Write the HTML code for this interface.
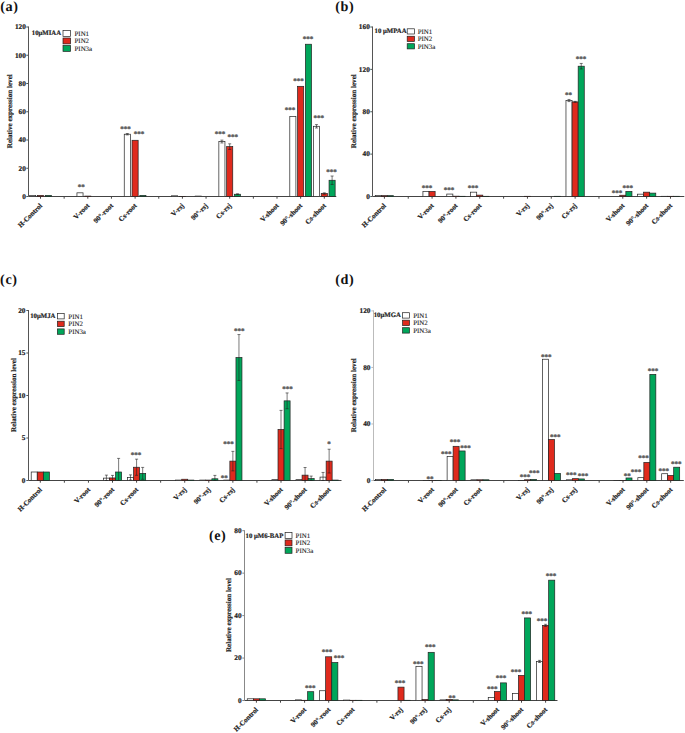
<!DOCTYPE html>
<html><head><meta charset="utf-8"><title>PIN expression</title>
<style>
html,body{margin:0;padding:0;background:#fff;}
body{width:685px;height:733px;overflow:hidden;}
svg{display:block;}
text{font-family:"Liberation Serif",serif;text-rendering:geometricPrecision;}
.yt,.ti,.xl,.tg{stroke:#222;stroke-width:0.2px;}
.lg{stroke:#222;stroke-width:0.1px;}
.pl{font-size:14.2px;font-weight:bold;fill:#111;letter-spacing:0.6px;}
.yt{font-size:7.3px;font-weight:bold;text-anchor:end;fill:#222;}
.ti{font-size:7.1px;font-weight:bold;text-anchor:middle;fill:#222;}
.xl{font-size:7.0px;font-weight:bold;text-anchor:end;fill:#222;}
.tg{font-size:6.75px;font-weight:bold;fill:#222;}
.lg{font-size:6.9px;fill:#222;}
.as{font-size:7.0px;font-weight:bold;text-anchor:middle;fill:#606060;stroke:#606060;stroke-width:0.35px;}
.ax{fill:none;stroke-width:1;}
.bar{stroke:#222;stroke-width:0.7;}
.eb{fill:none;stroke:#222;stroke-width:0.6;}
</style></head>
<body>
<svg width="685" height="733" viewBox="0 0 685 733">
<rect width="685" height="733" fill="#fff"/>
<text x="0.3" y="10.8" class="pl">(a)</text>
<path d="M28.5 26.5V196.5" stroke="#555" class="ax"/>
<path d="M28.5 196.5H336.3" stroke="#444" class="ax"/>
<path d="M26.3 196.5H28.5" stroke="#555" class="ax"/>
<text x="25.9" y="198.8" class="yt">0</text>
<path d="M26.3 168.25H28.5" stroke="#555" class="ax"/>
<text x="25.9" y="170.55" class="yt">20</text>
<path d="M26.3 140H28.5" stroke="#555" class="ax"/>
<text x="25.9" y="142.3" class="yt">40</text>
<path d="M26.3 111.75H28.5" stroke="#555" class="ax"/>
<text x="25.9" y="114.05" class="yt">60</text>
<path d="M26.3 83.5H28.5" stroke="#555" class="ax"/>
<text x="25.9" y="85.8" class="yt">80</text>
<path d="M26.3 55.25H28.5" stroke="#555" class="ax"/>
<text x="25.9" y="57.55" class="yt">100</text>
<path d="M26.3 27H28.5" stroke="#555" class="ax"/>
<text x="25.9" y="29.3" class="yt">120</text>
<text transform="translate(11.5 111.2) rotate(-90)" class="ti">Relative expression level</text>
<path d="M40.5 196.5v2.2" stroke="#444" class="ax"/>
<text transform="translate(42.6 206.2) rotate(-45)" class="xl">H-Control</text>
<path d="M64.15 196.5v2.2" stroke="#444" class="ax"/>
<path d="M87.8 196.5v2.2" stroke="#444" class="ax"/>
<text transform="translate(89.9 206.2) rotate(-45)" class="xl">V-root</text>
<path d="M111.45 196.5v2.2" stroke="#444" class="ax"/>
<text transform="translate(113.55 206.2) rotate(-45)" class="xl">90°-root</text>
<path d="M135.1 196.5v2.2" stroke="#444" class="ax"/>
<text transform="translate(137.2 206.2) rotate(-45)" class="xl">Cs-root</text>
<path d="M158.75 196.5v2.2" stroke="#444" class="ax"/>
<path d="M182.4 196.5v2.2" stroke="#444" class="ax"/>
<text transform="translate(184.5 206.2) rotate(-45)" class="xl">V-rsj</text>
<path d="M206.05 196.5v2.2" stroke="#444" class="ax"/>
<text transform="translate(208.15 206.2) rotate(-45)" class="xl">90°-rsj</text>
<path d="M229.7 196.5v2.2" stroke="#444" class="ax"/>
<text transform="translate(231.8 206.2) rotate(-45)" class="xl">Cs-rsj</text>
<path d="M253.35 196.5v2.2" stroke="#444" class="ax"/>
<path d="M277 196.5v2.2" stroke="#444" class="ax"/>
<text transform="translate(279.1 206.2) rotate(-45)" class="xl">V-shoot</text>
<path d="M300.65 196.5v2.2" stroke="#444" class="ax"/>
<text transform="translate(302.75 206.2) rotate(-45)" class="xl">90°-shoot</text>
<path d="M324.3 196.5v2.2" stroke="#444" class="ax"/>
<text transform="translate(326.4 206.2) rotate(-45)" class="xl">Cs-shoot</text>
<rect x="29.65" y="195.37" width="6.1" height="1.13" fill="#fff" class="bar"/>
<rect x="37.45" y="195.37" width="6.1" height="1.13" fill="#DF2A1D" class="bar"/>
<rect x="45.25" y="195.37" width="6.1" height="1.13" fill="#00A65A" class="bar"/>
<rect x="76.95" y="192.83" width="6.1" height="3.67" fill="#fff" class="bar"/>
<rect x="84.75" y="196.08" width="6.1" height="0.42" fill="#DF2A1D" class="bar"/>
<rect x="124.25" y="134.21" width="6.1" height="62.29" fill="#fff" class="bar"/>
<path d="M127.3 133.5V134.91M125.8 133.5h3M125.8 134.91h3" class="eb"/>
<rect x="132.05" y="140.28" width="6.1" height="56.22" fill="#DF2A1D" class="bar"/>
<rect x="139.85" y="195.37" width="6.1" height="1.13" fill="#00A65A" class="bar"/>
<rect x="171.55" y="195.79" width="6.1" height="0.71" fill="#fff" class="bar"/>
<rect x="179.35" y="196.36" width="6.1" height="0.14" fill="#DF2A1D" class="bar"/>
<rect x="195.2" y="196.08" width="6.1" height="0.42" fill="#fff" class="bar"/>
<rect x="218.85" y="141.55" width="6.1" height="54.95" fill="#fff" class="bar"/>
<path d="M221.9 140.14V142.97M220.4 140.14h3M220.4 142.97h3" class="eb"/>
<rect x="226.65" y="146.64" width="6.1" height="49.86" fill="#DF2A1D" class="bar"/>
<path d="M229.7 143.81V149.46M228.2 143.81h3M228.2 149.46h3" class="eb"/>
<rect x="234.45" y="194.24" width="6.1" height="2.26" fill="#00A65A" class="bar"/>
<path d="M237.5 193.82V194.66M236 193.82h3M236 194.66h3" class="eb"/>
<rect x="289.8" y="116.41" width="6.1" height="80.09" fill="#fff" class="bar"/>
<rect x="297.6" y="86.32" width="6.1" height="110.18" fill="#DF2A1D" class="bar"/>
<rect x="305.4" y="44.23" width="6.1" height="152.27" fill="#00A65A" class="bar"/>
<rect x="313.45" y="126.3" width="6.1" height="70.2" fill="#fff" class="bar"/>
<path d="M316.5 124.6V127.99M315 124.6h3M315 127.99h3" class="eb"/>
<rect x="321.25" y="193.53" width="6.1" height="2.97" fill="#DF2A1D" class="bar"/>
<path d="M324.3 192.83V194.24M322.8 192.83h3M322.8 194.24h3" class="eb"/>
<rect x="329.05" y="180.26" width="6.1" height="16.24" fill="#00A65A" class="bar"/>
<path d="M332.1 176.02V184.49M330.6 176.02h3M330.6 184.49h3" class="eb"/>
<text x="81.2" y="188.8" class="as">**</text>
<text x="125.4" y="130.9" class="as">***</text>
<text x="139" y="136" class="as">***</text>
<text x="220" y="135.9" class="as">***</text>
<text x="232.8" y="138.5" class="as">***</text>
<text x="290.1" y="112.2" class="as">***</text>
<text x="298.4" y="82.8" class="as">***</text>
<text x="308" y="41.1" class="as">***</text>
<text x="318.8" y="119.7" class="as">***</text>
<text x="331.6" y="173.6" class="as">***</text>
<text x="31.8" y="35.1" class="tg">10μMIAA</text>
<rect x="63" y="30.5" width="7.6" height="5.9" fill="#fff" class="bar"/>
<text x="74.5" y="35.85" class="lg">PIN1</text>
<rect x="63" y="38" width="7.6" height="5.9" fill="#DF2A1D" class="bar"/>
<text x="74.5" y="43.35" class="lg">PIN2</text>
<rect x="63" y="45.5" width="7.6" height="5.9" fill="#00A65A" class="bar"/>
<text x="74.5" y="50.85" class="lg">PIN3a</text>
<text x="335.3" y="11.4" class="pl">(b)</text>
<path d="M372.5 26.5V196.5" stroke="#555" class="ax"/>
<path d="M372.5 196.5H684.3" stroke="#444" class="ax"/>
<path d="M370.3 196.5H372.5" stroke="#555" class="ax"/>
<text x="369.8" y="198.8" class="yt">0</text>
<path d="M370.3 154.12H372.5" stroke="#555" class="ax"/>
<text x="369.8" y="156.43" class="yt">40</text>
<path d="M370.3 111.75H372.5" stroke="#555" class="ax"/>
<text x="369.8" y="114.05" class="yt">80</text>
<path d="M370.3 69.38H372.5" stroke="#555" class="ax"/>
<text x="369.8" y="71.67" class="yt">120</text>
<path d="M370.3 27H372.5" stroke="#555" class="ax"/>
<text x="369.8" y="29.3" class="yt">160</text>
<text transform="translate(355.6 111.2) rotate(-90)" class="ti">Relative expression level</text>
<path d="M384.4 196.5v2.2" stroke="#444" class="ax"/>
<text transform="translate(386.5 206.2) rotate(-45)" class="xl">H-Control</text>
<path d="M408.24 196.5v2.2" stroke="#444" class="ax"/>
<path d="M432.08 196.5v2.2" stroke="#444" class="ax"/>
<text transform="translate(434.18 206.2) rotate(-45)" class="xl">V-root</text>
<path d="M455.92 196.5v2.2" stroke="#444" class="ax"/>
<text transform="translate(458.02 206.2) rotate(-45)" class="xl">90°-root</text>
<path d="M479.76 196.5v2.2" stroke="#444" class="ax"/>
<text transform="translate(481.86 206.2) rotate(-45)" class="xl">Cs-root</text>
<path d="M503.6 196.5v2.2" stroke="#444" class="ax"/>
<path d="M527.44 196.5v2.2" stroke="#444" class="ax"/>
<text transform="translate(529.54 206.2) rotate(-45)" class="xl">V-rsj</text>
<path d="M551.28 196.5v2.2" stroke="#444" class="ax"/>
<text transform="translate(553.38 206.2) rotate(-45)" class="xl">90°-rsj</text>
<path d="M575.12 196.5v2.2" stroke="#444" class="ax"/>
<text transform="translate(577.22 206.2) rotate(-45)" class="xl">Cs-rsj</text>
<path d="M598.96 196.5v2.2" stroke="#444" class="ax"/>
<path d="M622.8 196.5v2.2" stroke="#444" class="ax"/>
<text transform="translate(624.9 206.2) rotate(-45)" class="xl">V-shoot</text>
<path d="M646.64 196.5v2.2" stroke="#444" class="ax"/>
<text transform="translate(648.74 206.2) rotate(-45)" class="xl">90°-shoot</text>
<path d="M670.48 196.5v2.2" stroke="#444" class="ax"/>
<text transform="translate(672.58 206.2) rotate(-45)" class="xl">Cs-shoot</text>
<rect x="375.25" y="195.44" width="6.1" height="1.06" fill="#fff" class="bar"/>
<rect x="381.35" y="195.65" width="6.1" height="0.85" fill="#DF2A1D" class="bar"/>
<rect x="387.45" y="195.65" width="6.1" height="0.85" fill="#00A65A" class="bar"/>
<rect x="422.93" y="191.41" width="6.1" height="5.08" fill="#fff" class="bar"/>
<rect x="429.03" y="191.41" width="6.1" height="5.08" fill="#DF2A1D" class="bar"/>
<rect x="446.77" y="194.06" width="6.1" height="2.44" fill="#fff" class="bar"/>
<rect x="452.87" y="196.18" width="6.1" height="0.32" fill="#DF2A1D" class="bar"/>
<rect x="458.97" y="196.29" width="6.1" height="0.21" fill="#00A65A" class="bar"/>
<rect x="470.61" y="192.16" width="6.1" height="4.34" fill="#fff" class="bar"/>
<rect x="476.71" y="195.12" width="6.1" height="1.38" fill="#DF2A1D" class="bar"/>
<rect x="482.81" y="196.29" width="6.1" height="0.21" fill="#00A65A" class="bar"/>
<rect x="524.39" y="196.29" width="6.1" height="0.21" fill="#DF2A1D" class="bar"/>
<rect x="554.33" y="196.29" width="6.1" height="0.21" fill="#00A65A" class="bar"/>
<rect x="565.97" y="100.52" width="6.1" height="95.98" fill="#fff" class="bar"/>
<path d="M569.02 99.46V101.58M567.52 99.46h3M567.52 101.58h3" class="eb"/>
<rect x="572.07" y="101.9" width="6.1" height="94.6" fill="#DF2A1D" class="bar"/>
<path d="M575.12 101.37V102.43M573.62 101.37h3M573.62 102.43h3" class="eb"/>
<rect x="578.17" y="66.2" width="6.1" height="130.3" fill="#00A65A" class="bar"/>
<path d="M581.22 63.44V68.95M579.72 63.44h3M579.72 68.95h3" class="eb"/>
<rect x="619.75" y="195.23" width="6.1" height="1.27" fill="#DF2A1D" class="bar"/>
<rect x="625.85" y="191.41" width="6.1" height="5.08" fill="#00A65A" class="bar"/>
<rect x="637.49" y="194.17" width="6.1" height="2.33" fill="#fff" class="bar"/>
<rect x="643.59" y="192.16" width="6.1" height="4.34" fill="#DF2A1D" class="bar"/>
<rect x="649.69" y="193.11" width="6.1" height="3.39" fill="#00A65A" class="bar"/>
<rect x="661.33" y="196.29" width="6.1" height="0.21" fill="#fff" class="bar"/>
<rect x="667.43" y="196.29" width="6.1" height="0.21" fill="#DF2A1D" class="bar"/>
<rect x="673.53" y="196.29" width="6.1" height="0.21" fill="#00A65A" class="bar"/>
<text x="427" y="190" class="as">***</text>
<text x="449.1" y="191.5" class="as">***</text>
<text x="473" y="190.3" class="as">***</text>
<text x="568.5" y="96.9" class="as">**</text>
<text x="581.1" y="61.1" class="as">***</text>
<text x="617" y="194.8" class="as">***</text>
<text x="627.8" y="189.5" class="as">***</text>
<text x="374.6" y="33.3" class="tg">10 μMPAA</text>
<rect x="407.2" y="28.8" width="7.3" height="5.2" fill="#fff" class="bar"/>
<text x="417.7" y="33.8" class="lg">PIN1</text>
<rect x="407.2" y="36.25" width="7.3" height="5.2" fill="#DF2A1D" class="bar"/>
<text x="417.7" y="41.25" class="lg">PIN2</text>
<rect x="407.2" y="43.7" width="7.3" height="5.2" fill="#00A65A" class="bar"/>
<text x="417.7" y="48.7" class="lg">PIN3a</text>
<text x="0.1" y="283.9" class="pl">(c)</text>
<path d="M28.5 310V480.5" stroke="#555" class="ax"/>
<path d="M28.5 480.5H341.5" stroke="#444" class="ax"/>
<path d="M26.3 480.5H28.5" stroke="#555" class="ax"/>
<text x="25.5" y="482.8" class="yt">0</text>
<path d="M26.3 438H28.5" stroke="#555" class="ax"/>
<text x="25.5" y="440.3" class="yt">5</text>
<path d="M26.3 395.5H28.5" stroke="#555" class="ax"/>
<text x="25.5" y="397.8" class="yt">10</text>
<path d="M26.3 353H28.5" stroke="#555" class="ax"/>
<text x="25.5" y="355.3" class="yt">15</text>
<path d="M26.3 310.5H28.5" stroke="#555" class="ax"/>
<text x="25.5" y="312.8" class="yt">20</text>
<text transform="translate(15.6 395) rotate(-90)" class="ti">Relative expression level</text>
<path d="M40.3 480.5v2.2" stroke="#444" class="ax"/>
<text transform="translate(42.4 490.2) rotate(-45)" class="xl">H-Control</text>
<path d="M64.37 480.5v2.2" stroke="#444" class="ax"/>
<path d="M88.44 480.5v2.2" stroke="#444" class="ax"/>
<text transform="translate(90.54 490.2) rotate(-45)" class="xl">V-root</text>
<path d="M112.51 480.5v2.2" stroke="#444" class="ax"/>
<text transform="translate(114.61 490.2) rotate(-45)" class="xl">90°-root</text>
<path d="M136.58 480.5v2.2" stroke="#444" class="ax"/>
<text transform="translate(138.68 490.2) rotate(-45)" class="xl">Cs-root</text>
<path d="M160.65 480.5v2.2" stroke="#444" class="ax"/>
<path d="M184.72 480.5v2.2" stroke="#444" class="ax"/>
<text transform="translate(186.82 490.2) rotate(-45)" class="xl">V-rsj</text>
<path d="M208.79 480.5v2.2" stroke="#444" class="ax"/>
<text transform="translate(210.89 490.2) rotate(-45)" class="xl">90°-rsj</text>
<path d="M232.86 480.5v2.2" stroke="#444" class="ax"/>
<text transform="translate(234.96 490.2) rotate(-45)" class="xl">Cs-rsj</text>
<path d="M256.93 480.5v2.2" stroke="#444" class="ax"/>
<path d="M281 480.5v2.2" stroke="#444" class="ax"/>
<text transform="translate(283.1 490.2) rotate(-45)" class="xl">V-shoot</text>
<path d="M305.07 480.5v2.2" stroke="#444" class="ax"/>
<text transform="translate(307.17 490.2) rotate(-45)" class="xl">90°-shoot</text>
<path d="M329.14 480.5v2.2" stroke="#444" class="ax"/>
<text transform="translate(331.24 490.2) rotate(-45)" class="xl">Cs-shoot</text>
<rect x="31.2" y="472" width="6" height="8.5" fill="#fff" class="bar"/>
<rect x="37.3" y="472" width="6" height="8.5" fill="#DF2A1D" class="bar"/>
<rect x="43.4" y="472" width="6" height="8.5" fill="#00A65A" class="bar"/>
<rect x="103.41" y="478.12" width="6" height="2.38" fill="#fff" class="bar"/>
<path d="M106.41 475.14V480.5M104.91 475.14h3M104.91 480.5h3" class="eb"/>
<rect x="109.51" y="477.95" width="6" height="2.55" fill="#DF2A1D" class="bar"/>
<path d="M112.51 475.4V480.5M111.01 475.4h3M111.01 480.5h3" class="eb"/>
<rect x="115.61" y="472" width="6" height="8.5" fill="#00A65A" class="bar"/>
<path d="M118.61 458.4V480.5M117.11 458.4h3M117.11 480.5h3" class="eb"/>
<rect x="127.48" y="477.44" width="6" height="3.06" fill="#fff" class="bar"/>
<path d="M130.48 474.89V479.99M128.98 474.89h3M128.98 479.99h3" class="eb"/>
<rect x="133.58" y="467.24" width="6" height="13.26" fill="#DF2A1D" class="bar"/>
<path d="M136.58 459.17V475.31M135.08 459.17h3M135.08 475.31h3" class="eb"/>
<rect x="139.68" y="473.36" width="6" height="7.14" fill="#00A65A" class="bar"/>
<path d="M142.68 467.41V479.31M141.18 467.41h3M141.18 479.31h3" class="eb"/>
<rect x="175.62" y="480.07" width="6" height="0.43" fill="#fff" class="bar"/>
<rect x="181.72" y="479.23" width="6" height="1.27" fill="#DF2A1D" class="bar"/>
<rect x="187.82" y="480.07" width="6" height="0.43" fill="#00A65A" class="bar"/>
<rect x="199.69" y="480.07" width="6" height="0.43" fill="#fff" class="bar"/>
<rect x="205.79" y="480.07" width="6" height="0.43" fill="#DF2A1D" class="bar"/>
<rect x="211.89" y="478.8" width="6" height="1.7" fill="#00A65A" class="bar"/>
<path d="M214.89 475.4V480.5M213.39 475.4h3M213.39 480.5h3" class="eb"/>
<rect x="223.76" y="480.07" width="6" height="0.43" fill="#fff" class="bar"/>
<rect x="229.86" y="461.12" width="6" height="19.38" fill="#DF2A1D" class="bar"/>
<path d="M232.86 451.35V470.89M231.36 451.35h3M231.36 470.89h3" class="eb"/>
<rect x="235.96" y="357.5" width="6" height="123" fill="#00A65A" class="bar"/>
<path d="M238.96 334.55V380.45M237.46 334.55h3M237.46 380.45h3" class="eb"/>
<rect x="271.9" y="479.65" width="6" height="0.85" fill="#fff" class="bar"/>
<rect x="278" y="429.5" width="6" height="51" fill="#DF2A1D" class="bar"/>
<path d="M281 410.38V448.62M279.5 410.38h3M279.5 448.62h3" class="eb"/>
<rect x="284.1" y="400.86" width="6" height="79.64" fill="#00A65A" class="bar"/>
<path d="M287.1 392.95V408.76M285.6 392.95h3M285.6 408.76h3" class="eb"/>
<rect x="295.97" y="479.65" width="6" height="0.85" fill="#fff" class="bar"/>
<rect x="302.07" y="475.14" width="6" height="5.36" fill="#DF2A1D" class="bar"/>
<path d="M305.07 467.5V480.5M303.57 467.5h3M303.57 480.5h3" class="eb"/>
<rect x="308.17" y="478.63" width="6" height="1.87" fill="#00A65A" class="bar"/>
<path d="M311.17 476.08V480.5M309.67 476.08h3M309.67 480.5h3" class="eb"/>
<rect x="320.04" y="477.1" width="6" height="3.4" fill="#fff" class="bar"/>
<path d="M323.04 472.43V480.5M321.54 472.43h3M321.54 480.5h3" class="eb"/>
<rect x="326.14" y="461.12" width="6" height="19.38" fill="#DF2A1D" class="bar"/>
<path d="M329.14 449.22V473.02M327.64 449.22h3M327.64 473.02h3" class="eb"/>
<rect x="332.24" y="480.07" width="6" height="0.43" fill="#00A65A" class="bar"/>
<text x="136" y="457.3" class="as">***</text>
<text x="224.2" y="479.6" class="as">**</text>
<text x="228.4" y="446" class="as">***</text>
<text x="239.2" y="332.6" class="as">***</text>
<text x="287.4" y="391.1" class="as">***</text>
<text x="329.1" y="445.6" class="as">*</text>
<text x="30.2" y="317.6" class="tg">10μMJA</text>
<rect x="57.4" y="313.5" width="6.8" height="5.4" fill="#fff" class="bar"/>
<text x="68.3" y="318.6" class="lg">PIN1</text>
<rect x="57.4" y="321.2" width="6.8" height="5.4" fill="#DF2A1D" class="bar"/>
<text x="68.3" y="326.3" class="lg">PIN2</text>
<rect x="57.4" y="328.9" width="6.8" height="5.4" fill="#00A65A" class="bar"/>
<text x="68.3" y="334" class="lg">PIN3a</text>
<text x="335.3" y="284.1" class="pl">(d)</text>
<path d="M373.5 310.4V480.5" stroke="#bbb" class="ax"/>
<path d="M373.5 480.5H683.8" stroke="#444" class="ax"/>
<path d="M371.3 480.5H373.5" stroke="#bbb" class="ax"/>
<text x="370.5" y="482.8" class="yt">0</text>
<path d="M371.3 423.97H373.5" stroke="#bbb" class="ax"/>
<text x="370.5" y="426.27" class="yt">40</text>
<path d="M371.3 367.43H373.5" stroke="#bbb" class="ax"/>
<text x="370.5" y="369.73" class="yt">80</text>
<path d="M371.3 310.9H373.5" stroke="#bbb" class="ax"/>
<text x="370.5" y="313.2" class="yt">120</text>
<text transform="translate(355.6 395.2) rotate(-90)" class="ti">Relative expression level</text>
<path d="M384.6 480.5v2.2" stroke="#444" class="ax"/>
<text transform="translate(386.7 490.2) rotate(-45)" class="xl">H-Control</text>
<path d="M408.44 480.5v2.2" stroke="#444" class="ax"/>
<path d="M432.28 480.5v2.2" stroke="#444" class="ax"/>
<text transform="translate(434.38 490.2) rotate(-45)" class="xl">V-root</text>
<path d="M456.12 480.5v2.2" stroke="#444" class="ax"/>
<text transform="translate(458.22 490.2) rotate(-45)" class="xl">90°-root</text>
<path d="M479.96 480.5v2.2" stroke="#444" class="ax"/>
<text transform="translate(482.06 490.2) rotate(-45)" class="xl">Cs-root</text>
<path d="M503.8 480.5v2.2" stroke="#444" class="ax"/>
<path d="M527.64 480.5v2.2" stroke="#444" class="ax"/>
<text transform="translate(529.74 490.2) rotate(-45)" class="xl">V-rsj</text>
<path d="M551.48 480.5v2.2" stroke="#444" class="ax"/>
<text transform="translate(553.58 490.2) rotate(-45)" class="xl">90°-rsj</text>
<path d="M575.32 480.5v2.2" stroke="#444" class="ax"/>
<text transform="translate(577.42 490.2) rotate(-45)" class="xl">Cs-rsj</text>
<path d="M599.16 480.5v2.2" stroke="#444" class="ax"/>
<path d="M623 480.5v2.2" stroke="#444" class="ax"/>
<text transform="translate(625.1 490.2) rotate(-45)" class="xl">V-shoot</text>
<path d="M646.84 480.5v2.2" stroke="#444" class="ax"/>
<text transform="translate(648.94 490.2) rotate(-45)" class="xl">90°-shoot</text>
<path d="M670.68 480.5v2.2" stroke="#444" class="ax"/>
<text transform="translate(672.78 490.2) rotate(-45)" class="xl">Cs-shoot</text>
<rect x="375.6" y="479.37" width="6" height="1.13" fill="#fff" class="bar"/>
<rect x="381.6" y="479.37" width="6" height="1.13" fill="#DF2A1D" class="bar"/>
<rect x="387.6" y="479.37" width="6" height="1.13" fill="#00A65A" class="bar"/>
<rect x="423.28" y="480.36" width="6" height="0.14" fill="#fff" class="bar"/>
<rect x="429.28" y="480.36" width="6" height="0.14" fill="#DF2A1D" class="bar"/>
<rect x="435.28" y="480.36" width="6" height="0.14" fill="#00A65A" class="bar"/>
<rect x="447.12" y="456.47" width="6" height="24.03" fill="#fff" class="bar"/>
<rect x="453.12" y="446.3" width="6" height="34.2" fill="#DF2A1D" class="bar"/>
<rect x="459.12" y="450.96" width="6" height="29.54" fill="#00A65A" class="bar"/>
<rect x="470.96" y="479.79" width="6" height="0.71" fill="#fff" class="bar"/>
<rect x="476.96" y="479.79" width="6" height="0.71" fill="#DF2A1D" class="bar"/>
<rect x="482.96" y="479.79" width="6" height="0.71" fill="#00A65A" class="bar"/>
<rect x="518.64" y="480.36" width="6" height="0.14" fill="#fff" class="bar"/>
<rect x="524.64" y="479.79" width="6" height="0.71" fill="#DF2A1D" class="bar"/>
<rect x="530.64" y="479.37" width="6" height="1.13" fill="#00A65A" class="bar"/>
<rect x="542.48" y="359.24" width="6" height="121.26" fill="#fff" class="bar"/>
<rect x="548.48" y="439.51" width="6" height="40.99" fill="#DF2A1D" class="bar"/>
<rect x="554.48" y="473.43" width="6" height="7.07" fill="#00A65A" class="bar"/>
<rect x="566.32" y="479.79" width="6" height="0.71" fill="#fff" class="bar"/>
<rect x="572.32" y="478.66" width="6" height="1.84" fill="#DF2A1D" class="bar"/>
<rect x="578.32" y="478.95" width="6" height="1.55" fill="#00A65A" class="bar"/>
<rect x="614" y="480.36" width="6" height="0.14" fill="#fff" class="bar"/>
<rect x="620" y="480.36" width="6" height="0.14" fill="#DF2A1D" class="bar"/>
<rect x="626" y="477.96" width="6" height="2.54" fill="#00A65A" class="bar"/>
<rect x="637.84" y="477.67" width="6" height="2.83" fill="#fff" class="bar"/>
<rect x="643.84" y="462.41" width="6" height="18.09" fill="#DF2A1D" class="bar"/>
<rect x="649.84" y="374.36" width="6" height="106.14" fill="#00A65A" class="bar"/>
<rect x="661.68" y="473.72" width="6" height="6.78" fill="#fff" class="bar"/>
<rect x="667.68" y="475.41" width="6" height="5.09" fill="#DF2A1D" class="bar"/>
<rect x="673.68" y="467.21" width="6" height="13.29" fill="#00A65A" class="bar"/>
<text x="429.9" y="480.7" class="as">**</text>
<text x="446.2" y="455.6" class="as">***</text>
<text x="455" y="443.7" class="as">***</text>
<text x="465.6" y="450" class="as">***</text>
<text x="525" y="478.7" class="as">***</text>
<text x="534.2" y="475" class="as">***</text>
<text x="546.2" y="359" class="as">***</text>
<text x="555.3" y="439.3" class="as">***</text>
<text x="571.2" y="476.8" class="as">***</text>
<text x="583" y="477.8" class="as">***</text>
<text x="627.2" y="477.8" class="as">**</text>
<text x="636.1" y="474.3" class="as">***</text>
<text x="643.4" y="459.7" class="as">***</text>
<text x="653" y="372.8" class="as">***</text>
<text x="663.7" y="472.7" class="as">***</text>
<text x="676.2" y="465.8" class="as">***</text>
<text x="373.7" y="317.4" class="tg">10μMGA</text>
<rect x="402.6" y="312.7" width="6.9" height="5.4" fill="#fff" class="bar"/>
<text x="413.2" y="317.8" class="lg">PIN1</text>
<rect x="402.6" y="320.2" width="6.9" height="5.4" fill="#DF2A1D" class="bar"/>
<text x="413.2" y="325.3" class="lg">PIN2</text>
<rect x="402.6" y="327.7" width="6.9" height="5.4" fill="#00A65A" class="bar"/>
<text x="413.2" y="332.8" class="lg">PIN3a</text>
<text x="208.9" y="539.9" class="pl">(e)</text>
<path d="M244.5 530.2V700.5" stroke="#888" class="ax"/>
<path d="M244.5 700.5H557.5" stroke="#444" class="ax"/>
<path d="M242.3 700.5H244.5" stroke="#888" class="ax"/>
<text x="241.6" y="702.8" class="yt">0</text>
<path d="M242.3 658.05H244.5" stroke="#888" class="ax"/>
<text x="241.6" y="660.35" class="yt">20</text>
<path d="M242.3 615.6H244.5" stroke="#888" class="ax"/>
<text x="241.6" y="617.9" class="yt">40</text>
<path d="M242.3 573.15H244.5" stroke="#888" class="ax"/>
<text x="241.6" y="575.45" class="yt">60</text>
<path d="M242.3 530.7H244.5" stroke="#888" class="ax"/>
<text x="241.6" y="533" class="yt">80</text>
<text transform="translate(231.1 615.1) rotate(-90)" class="ti">Relative expression level</text>
<path d="M256.4 700.5v2.2" stroke="#444" class="ax"/>
<text transform="translate(258.5 710.2) rotate(-45)" class="xl">H-Control</text>
<path d="M280.5 700.5v2.2" stroke="#444" class="ax"/>
<path d="M304.6 700.5v2.2" stroke="#444" class="ax"/>
<text transform="translate(306.7 710.2) rotate(-45)" class="xl">V-root</text>
<path d="M328.7 700.5v2.2" stroke="#444" class="ax"/>
<text transform="translate(330.8 710.2) rotate(-45)" class="xl">90°-root</text>
<path d="M352.8 700.5v2.2" stroke="#444" class="ax"/>
<text transform="translate(354.9 710.2) rotate(-45)" class="xl">Cs-root</text>
<path d="M376.9 700.5v2.2" stroke="#444" class="ax"/>
<path d="M401 700.5v2.2" stroke="#444" class="ax"/>
<text transform="translate(403.1 710.2) rotate(-45)" class="xl">V-rsj</text>
<path d="M425.1 700.5v2.2" stroke="#444" class="ax"/>
<text transform="translate(427.2 710.2) rotate(-45)" class="xl">90°-rsj</text>
<path d="M449.2 700.5v2.2" stroke="#444" class="ax"/>
<text transform="translate(451.3 710.2) rotate(-45)" class="xl">Cs-rsj</text>
<path d="M473.3 700.5v2.2" stroke="#444" class="ax"/>
<path d="M497.4 700.5v2.2" stroke="#444" class="ax"/>
<text transform="translate(499.5 710.2) rotate(-45)" class="xl">V-shoot</text>
<path d="M521.5 700.5v2.2" stroke="#444" class="ax"/>
<text transform="translate(523.6 710.2) rotate(-45)" class="xl">90°-shoot</text>
<path d="M545.6 700.5v2.2" stroke="#444" class="ax"/>
<text transform="translate(547.7 710.2) rotate(-45)" class="xl">Cs-shoot</text>
<rect x="247.25" y="698.8" width="6.1" height="1.7" fill="#fff" class="bar"/>
<rect x="253.35" y="698.8" width="6.1" height="1.7" fill="#DF2A1D" class="bar"/>
<rect x="259.45" y="698.8" width="6.1" height="1.7" fill="#00A65A" class="bar"/>
<rect x="295.45" y="699.86" width="6.1" height="0.64" fill="#fff" class="bar"/>
<rect x="301.55" y="700.29" width="6.1" height="0.21" fill="#DF2A1D" class="bar"/>
<rect x="307.65" y="691.69" width="6.1" height="8.81" fill="#00A65A" class="bar"/>
<rect x="319.55" y="690.74" width="6.1" height="9.76" fill="#fff" class="bar"/>
<rect x="325.65" y="656.78" width="6.1" height="43.72" fill="#DF2A1D" class="bar"/>
<rect x="331.75" y="662.51" width="6.1" height="37.99" fill="#00A65A" class="bar"/>
<rect x="343.65" y="700.08" width="6.1" height="0.42" fill="#fff" class="bar"/>
<rect x="349.75" y="700.29" width="6.1" height="0.21" fill="#DF2A1D" class="bar"/>
<rect x="355.85" y="700.29" width="6.1" height="0.21" fill="#00A65A" class="bar"/>
<rect x="397.95" y="687.13" width="6.1" height="13.37" fill="#DF2A1D" class="bar"/>
<rect x="404.05" y="700.29" width="6.1" height="0.21" fill="#00A65A" class="bar"/>
<rect x="415.95" y="666.33" width="6.1" height="34.17" fill="#fff" class="bar"/>
<rect x="422.05" y="699.44" width="6.1" height="1.06" fill="#DF2A1D" class="bar"/>
<rect x="428.15" y="652.32" width="6.1" height="48.18" fill="#00A65A" class="bar"/>
<rect x="440.05" y="699.86" width="6.1" height="0.64" fill="#fff" class="bar"/>
<rect x="446.15" y="699.44" width="6.1" height="1.06" fill="#DF2A1D" class="bar"/>
<rect x="452.25" y="699.86" width="6.1" height="0.64" fill="#00A65A" class="bar"/>
<rect x="488.25" y="697.53" width="6.1" height="2.97" fill="#fff" class="bar"/>
<rect x="494.35" y="691.59" width="6.1" height="8.91" fill="#DF2A1D" class="bar"/>
<rect x="500.45" y="682.88" width="6.1" height="17.62" fill="#00A65A" class="bar"/>
<rect x="512.35" y="693.5" width="6.1" height="7" fill="#fff" class="bar"/>
<rect x="518.45" y="675.45" width="6.1" height="25.05" fill="#DF2A1D" class="bar"/>
<rect x="524.55" y="617.93" width="6.1" height="82.57" fill="#00A65A" class="bar"/>
<rect x="536.45" y="661.45" width="6.1" height="39.05" fill="#fff" class="bar"/>
<path d="M539.5 660.38V662.51M538 660.38h3M538 662.51h3" class="eb"/>
<rect x="542.55" y="625.36" width="6.1" height="75.14" fill="#DF2A1D" class="bar"/>
<path d="M545.6 624.3V626.42M544.1 624.3h3M544.1 626.42h3" class="eb"/>
<rect x="548.65" y="580.15" width="6.1" height="120.35" fill="#00A65A" class="bar"/>
<text x="310.3" y="690.3" class="as">***</text>
<text x="327" y="653.5" class="as">***</text>
<text x="339" y="660.3" class="as">***</text>
<text x="400.1" y="685.4" class="as">***</text>
<text x="418.3" y="665.7" class="as">***</text>
<text x="430.2" y="649.4" class="as">***</text>
<text x="452.1" y="699.7" class="as">**</text>
<text x="492.2" y="690.7" class="as">***</text>
<text x="500.9" y="680.4" class="as">***</text>
<text x="516.1" y="674.4" class="as">***</text>
<text x="526.7" y="616" class="as">***</text>
<text x="541.9" y="622.6" class="as">***</text>
<text x="551.1" y="578.2" class="as">***</text>
<text x="245.5" y="538.2" class="tg">10 μM6-BAP</text>
<rect x="285.1" y="532.5" width="6.9" height="5.9" fill="#fff" class="bar"/>
<text x="295.6" y="537.85" class="lg">PIN1</text>
<rect x="285.1" y="539.95" width="6.9" height="5.9" fill="#DF2A1D" class="bar"/>
<text x="295.6" y="545.3" class="lg">PIN2</text>
<rect x="285.1" y="547.4" width="6.9" height="5.9" fill="#00A65A" class="bar"/>
<text x="295.6" y="552.75" class="lg">PIN3a</text>
</svg>
</body></html>
